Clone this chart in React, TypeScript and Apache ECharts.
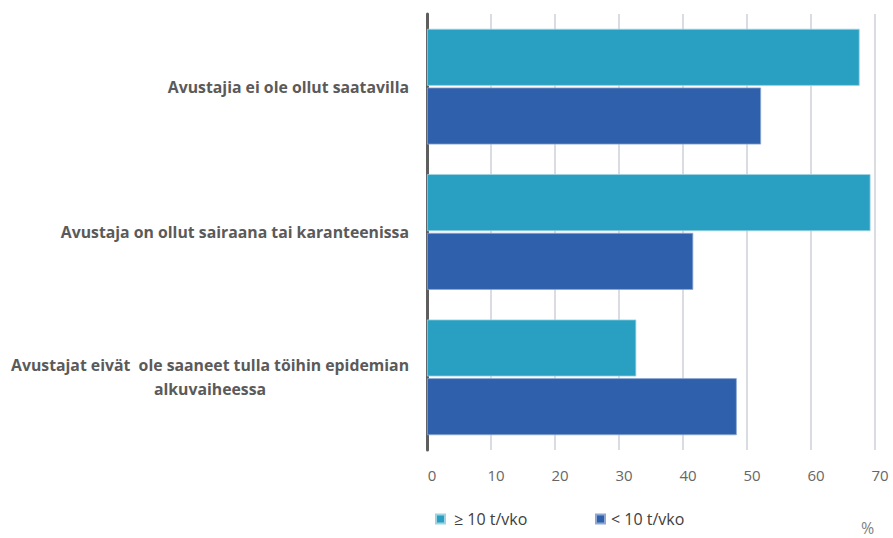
import React, { useEffect, useRef } from "react";
import * as echarts from "echarts";

const categories = [
  "Avustajia ei ole ollut saatavilla",
  "Avustaja on ollut sairaana tai karanteenissa",
  "Avustajat eivät  ole saaneet tulla töihin epidemian\nalkuvaiheessa",
];
const seriesNames = ["≥ 10 t/vko", "< 10 t/vko"];
const valuesHigh = [67.6, 69.3, 32.7];
const valuesLow = [52.2, 41.6, 48.4];
const xTicks = [0, 70, 10];

const TEAL = "#29A0C2";
const BLUE = "#2E60AB";

export default function App() {
  const ref = useRef<HTMLDivElement>(null);
  useEffect(() => {
    if (!ref.current) return;
    const chart = echarts.init(ref.current, undefined, { renderer: "svg" });
    chart.setOption({
      animation: false,
      textStyle: { fontFamily: "Open Sans" },
      grid: { left: 427, right: 18, top: 14, bottom: 88, containLabel: false },
      xAxis: {
        type: "value",
        min: xTicks[0],
        max: xTicks[1],
        interval: xTicks[2],
        axisLine: { show: false },
        axisTick: { show: false },
        splitLine: { show: true, lineStyle: { color: "#D9DCE0", width: 2 } },
        axisLabel: {
          color: "#666666",
          fontSize: 15,
          margin: 17,
          padding: [0, 0, 0, 10],
          fontFamily: "Open Sans",
        },
      },
      yAxis: {
        type: "category",
        data: categories,
        inverse: true,
        axisLine: { show: true, lineStyle: { color: "#5E5E5E", width: 3 } },
        axisTick: { show: false },
        axisLabel: {
          align: "right",
          margin: 18,
          formatter: (v: string) =>
            v
              .split("\n")
              .map((s) => `{a|${s}}`)
              .join("\n"),
          rich: {
            a: {
              color: "#5A5A5A",
              fontSize: 15.8,
              fontWeight: "bold",
              lineHeight: 24,
              align: "center",
              fontFamily: "Open Sans",
            },
          },
        },
      },
      legend: [
        {
          data: [seriesNames[0]],
          left: 430,
          top: 506,
          icon: "rect",
          itemWidth: 9,
          itemHeight: 9,
          itemGap: 5,
          textStyle: { color: "#404040", fontSize: 16, fontFamily: "Open Sans", padding: [0, 0, 0, 4] },
        },
        {
          data: [seriesNames[1]],
          left: 590,
          top: 506,
          icon: "rect",
          itemWidth: 9,
          itemHeight: 9,
          textStyle: { color: "#404040", fontSize: 16, fontFamily: "Open Sans", padding: [0, 0, 0, 1] },
        },
      ],
      graphic: [
        {
          type: "text",
          left: 861,
          top: 520,
          style: { text: "%", fill: "#808080", fontSize: 16, fontFamily: "Open Sans" },
        },
      ],
      series: [
        {
          name: seriesNames[0],
          type: "bar",
          data: valuesHigh,
          barWidth: 57,
          barGap: "3%",
          itemStyle: { color: TEAL, borderColor: "#9fd3e3", borderWidth: 0.8 },
        },
        {
          name: seriesNames[1],
          type: "bar",
          data: valuesLow,
          barWidth: 57,
          barGap: "3%",
          itemStyle: { color: BLUE, borderColor: "#8ea8d2", borderWidth: 0.8 },
        },
      ],
    });
    return () => chart.dispose();
  }, []);
  return <div ref={ref} style={{ width: 893, height: 538, position: "absolute", left: 0, top: 0 }} />;
}
